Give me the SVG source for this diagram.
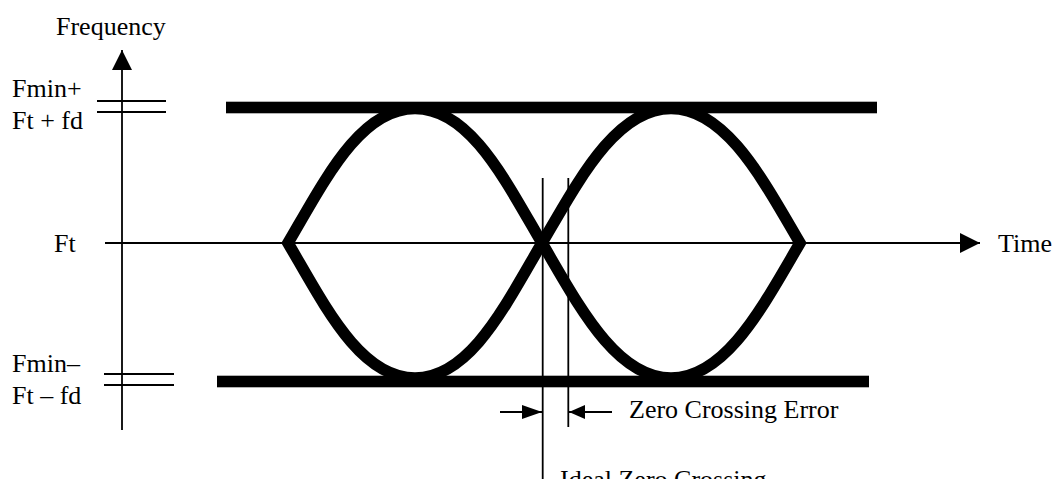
<svg xmlns="http://www.w3.org/2000/svg" width="1054" height="479" viewBox="0 0 1054 479">
<style>
  text { font-family: "Liberation Serif", "Times New Roman", serif; font-size: 26px; fill: #000; }
  .thin { stroke: #000; stroke-width: 1.8; fill: none; }
  .bar { fill: #000; }
  .eye { stroke: #000; stroke-width: 11.5; fill: none; stroke-linejoin: miter; stroke-miterlimit: 10; }
</style>
<defs>
  <marker id="ah" viewBox="0 0 20 20" refX="20" refY="10" markerWidth="20" markerHeight="20" markerUnits="userSpaceOnUse" orient="auto">
    <path d="M0,0 L20,10 L0,20 Z" fill="#000"/>
  </marker>
  <marker id="ahs" viewBox="0 0 20 14" refX="20" refY="7" markerWidth="20" markerHeight="14" markerUnits="userSpaceOnUse" orient="auto">
    <path d="M0,0 L20,7 L0,14 Z" fill="#000"/>
  </marker>
  <marker id="ahs2" viewBox="0 0 16 14" refX="16" refY="7" markerWidth="16" markerHeight="14" markerUnits="userSpaceOnUse" orient="auto">
    <path d="M0,0 L16,7 L0,14 Z" fill="#000"/>
  </marker>
</defs>

<g id="connectors">
  <!-- vertical frequency axis -->
  <line class="thin" x1="122" y1="430" x2="122" y2="50" marker-end="url(#ah)"/>
  <!-- horizontal time axis -->
  <line class="thin" x1="105" y1="243" x2="980" y2="243" marker-end="url(#ah)"/>
  <!-- upper ticks -->
  <line class="thin" x1="97" y1="101" x2="166" y2="101"/>
  <line class="thin" x1="97" y1="112" x2="166" y2="112"/>
  <!-- lower ticks -->
  <line class="thin" x1="104" y1="374" x2="174" y2="374"/>
  <line class="thin" x1="104" y1="385" x2="174" y2="385"/>
  <!-- zero crossing lines -->
  <line class="thin" x1="542.7" y1="178" x2="542.7" y2="479"/>
  <line class="thin" x1="568.3" y1="178" x2="568.3" y2="427"/>
  <!-- dimension arrows -->
  <line class="thin" x1="500" y1="412" x2="542" y2="412" marker-end="url(#ahs)"/>
  <line class="thin" x1="612" y1="412" x2="569" y2="412" marker-end="url(#ahs2)"/>
</g>

<g id="limit-bars">
  <rect class="bar" x="226" y="101.7" width="651" height="11.6"/>
  <rect class="bar" x="217" y="375.7" width="652" height="11.6"/>
</g>

<g id="eye-pattern">
  <path class="eye" d="M288,243 C325,180 360,108.5 415,108.5 C470,108.5 505,180 542,243 C579,306 616,378 671,378 C726,378 763,306 800,243 C763,180 726,108.5 671,108.5 C616,108.5 579,180 542,243 C505,306 470,378 415,378 C360,378 325,306 288,243 Z"/>
</g>

<g id="labels">
  <text x="56" y="35">Frequency</text>
  <text x="12" y="97">Fmin+</text>
  <text x="12" y="129">Ft + fd</text>
  <text x="54" y="252">Ft</text>
  <text x="12" y="372">Fmin–</text>
  <text x="12" y="404">Ft – fd</text>
  <text x="998" y="252">Time</text>
  <text x="629" y="418">Zero Crossing Error</text>
  <text x="560" y="488">Ideal Zero Crossing</text>
</g>
</svg>
